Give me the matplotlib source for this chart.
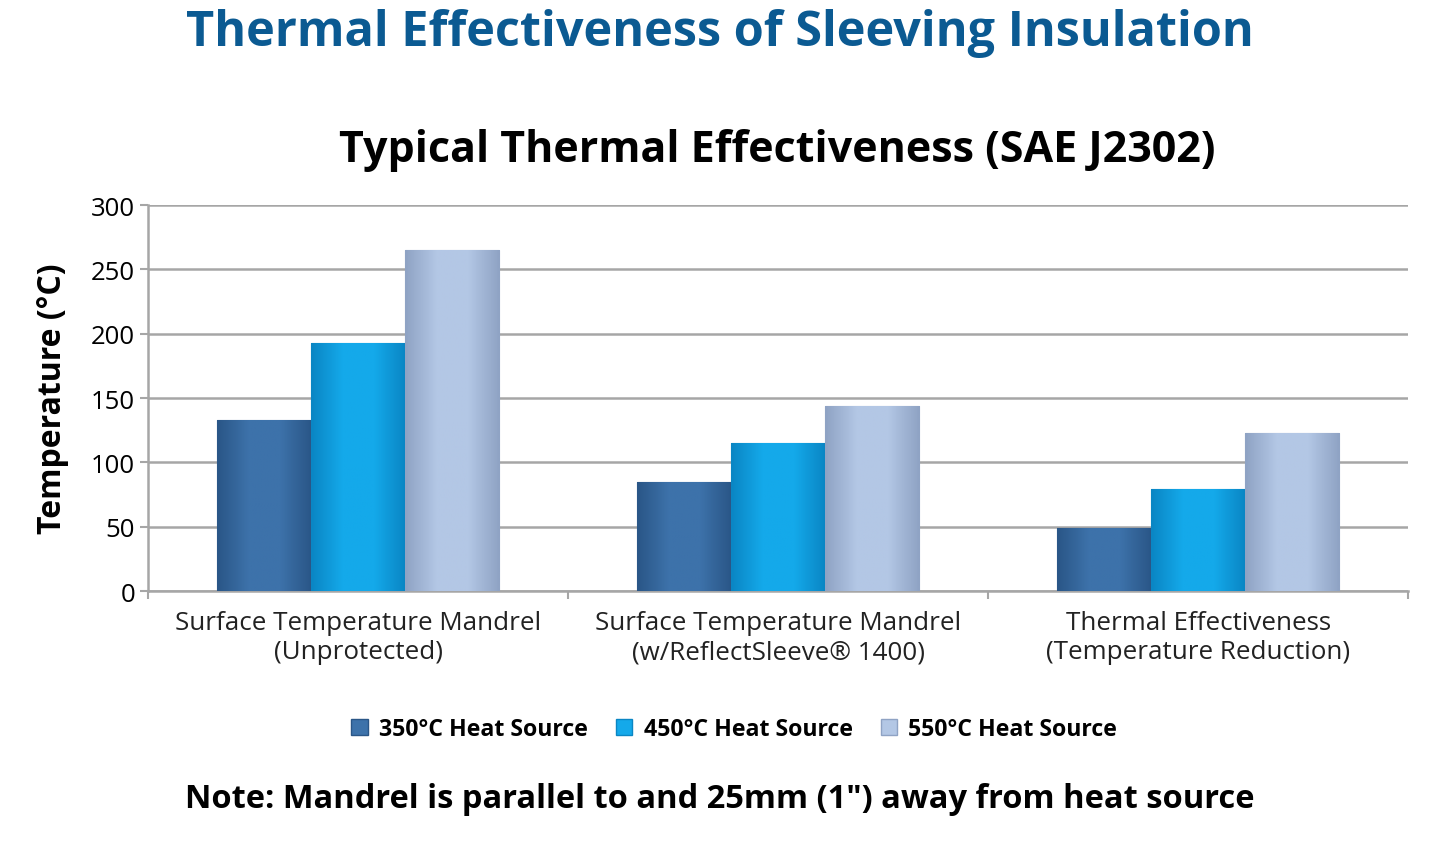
import numpy as np
import matplotlib
matplotlib.use('Agg')
import matplotlib.pyplot as plt
from matplotlib.patches import Patch

categories = ['Surface Temperature Mandrel\n(Unprotected)',
              'Surface Temperature Mandrel\n(w/ReflectSleeve® 1400)',
              'Thermal Effectiveness\n(Temperature Reduction)']
series = ['350°C Heat Source', '450°C Heat Source', '550°C Heat Source']
values = [[133, 85, 49],
          [193, 115, 79],
          [265, 144, 123]]
colors = ['#3d72aa', '#14a9ea', '#b3c7e5']
darks = ['#2a5687', '#0a86c4', '#8fa3c4']

plt.rcParams['font.family'] = ['Open Sans', 'DejaVu Sans']

fig = plt.figure(figsize=(14.4, 8.45), dpi=100)
ax = fig.add_axes([0.103, 0.2994, 0.875, 0.4566])

x = np.arange(len(categories))
w = 0.224
for i, (vals, c, d) in enumerate(zip(values, colors, darks)):
    bars = ax.bar(x + (i - 1) * w, vals, w, color=c, edgecolor=d, linewidth=0.8, zorder=2)
    cmap = matplotlib.colors.LinearSegmentedColormap.from_list('g', [d, c, c, d])
    for b in bars:
        grad = np.linspace(0, 1, 64).reshape(1, -1)
        im = ax.imshow(grad, cmap=cmap, aspect='auto', zorder=3,
                       extent=[b.get_x(), b.get_x() + b.get_width(), 0, b.get_height()])
        im.set_clip_path(b)

ax.set_xlim(-0.5, 2.5)
ax.set_ylim(0, 300)
ax.set_yticks(range(0, 301, 50))
ax.yaxis.grid(True, color='#a6a6a6', linewidth=1.8, zorder=0)
ax.set_axisbelow(True)
for s in ['top', 'right']:
    ax.spines[s].set_visible(False)
ax.spines['left'].set_color('#a6a6a6')
ax.spines['bottom'].set_color('#a6a6a6')
ax.spines['left'].set_linewidth(1.8)
ax.spines['bottom'].set_linewidth(1.8)
ax.set_xticks(x)
ax.set_xticklabels(categories, fontsize=18.7, color='#222222')
ax.set_xticks([-0.5, 0.5, 1.5, 2.5], minor=True)
ax.tick_params(axis='x', which='major', length=0, pad=14)
ax.tick_params(axis='x', which='minor', length=6, color='#a6a6a6', width=1.5)
ax.tick_params(axis='y', length=6, color='#a6a6a6', width=1.5, labelsize=18.5)
ax.set_ylabel('Temperature (°C)', fontsize=23, fontweight='bold', labelpad=16)

fig.text(0.5, 0.96, 'Thermal Effectiveness of Sleeving Insulation', ha='center', va='center',
         fontsize=35, fontweight='bold', color='#0b5a92')
fig.text(0.54, 0.822, 'Typical Thermal Effectiveness (SAE J2302)', ha='center', va='center',
         fontsize=31, fontweight='bold', color='black')

handles = [Patch(facecolor=c, edgecolor=d) for c, d in zip(colors, darks)]
fig.legend(handles, series, loc='center', bbox_to_anchor=(0.51, 0.136), ncol=3, frameon=False,
           prop={'size': 16.7, 'weight': 'bold'}, handlelength=0.7, handleheight=0.7,
           handletextpad=0.5, columnspacing=1.2)
fig.text(0.5, 0.054, 'Note: Mandrel is parallel to and 25mm (1") away from heat source', ha='center',
         va='center', fontsize=23.5, fontweight='bold')

fig.savefig('out.png', dpi=100)
